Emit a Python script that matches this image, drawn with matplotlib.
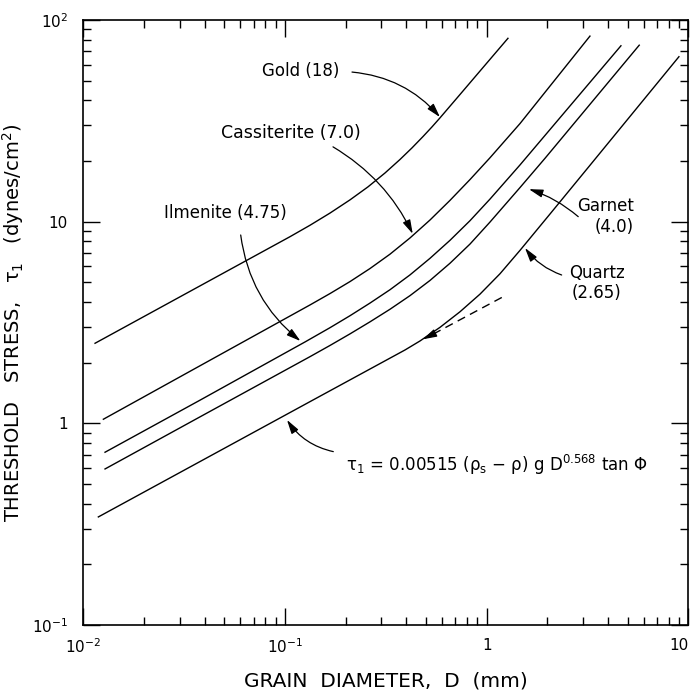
import matplotlib
matplotlib.use("Agg")
import matplotlib.pyplot as plt

plt.rcParams.update({
    "font.family": "DejaVu Sans",
    "mathtext.fontset": "dejavusans",
    "mathtext.default": "regular",
    "font.size": 12,
})

# ── curves: grain diameter D (mm) vs threshold stress (dynes/cm^2)
gold_d = [0.01143, 0.0379, 0.1059, 0.133, 0.1671, 0.2101, 0.2579, 0.3131, 0.3717,
          0.4263, 0.4832, 0.5356, 0.5868, 0.7375, 0.9808, 1.2752]
gold_t = [2.495, 4.805, 8.426, 9.598, 11.03, 12.83, 14.88, 17.43, 20.34,
          23.22, 26.42, 29.51, 32.71, 42.72, 59.68, 81.15]

cass_d = [0.01257, 0.0379, 0.133, 0.1671, 0.2101, 0.2638, 0.3316, 0.4166, 0.5235,
          0.6577, 0.8264, 1.0385, 1.463, 3.252]
cass_t = [1.048, 1.93, 3.864, 4.400, 5.047, 5.855, 6.900, 8.303, 10.19,
          12.75, 16.17, 20.74, 30.65, 83.22]

ilm_d = [0.01281, 0.0379, 0.1257, 0.1671, 0.2101, 0.2638, 0.3316, 0.4166, 0.5235,
         0.6577, 0.8264, 1.0385, 1.463, 4.633]
ilm_t = [0.719, 1.303, 2.533, 2.980, 3.418, 3.947, 4.598, 5.445, 6.580,
         8.08, 10.11, 12.94, 19.11, 74.52]

garnet_d = [0.01281, 0.0379, 0.133, 0.1671, 0.2101, 0.2638, 0.3316, 0.4166, 0.5235,
            0.6577, 0.8264, 1.0385, 1.463, 1.946, 5.709]
garnet_t = [0.594, 1.077, 2.141, 2.433, 2.778, 3.186, 3.679, 4.297, 5.111,
            6.220, 7.743, 9.954, 14.76, 20.61, 75.02]

quartz_d = [0.01187, 0.0379, 0.133, 0.3936, 0.467, 0.5868, 0.7375, 0.9264, 1.164,
            1.463, 2.06, 3.252, 8.982]
quartz_t = [0.3435, 0.6465, 1.281, 2.311, 2.561, 2.992, 3.575, 4.371, 5.516,
            7.206, 10.91, 19.03, 65.77]

# dashed extension of the D^0.568 law beyond the quartz bend
ext_d = [0.543, 1.21]
ext_t = [2.77, 4.25]

fig = plt.figure(figsize=(6.95, 6.95), dpi=100)
ax = fig.add_axes([0.1199, 0.1007, 0.8705, 0.8705])

for d, t in [(gold_d, gold_t), (cass_d, cass_t), (ilm_d, ilm_t),
             (garnet_d, garnet_t), (quartz_d, quartz_t)]:
    ax.plot(d, t, color="k", lw=1.0)
ax.plot(ext_d, ext_t, color="k", lw=1.0, ls=(0, (6, 4)))

ax.set_xscale("log"); ax.set_yscale("log")
ax.set_xlim(1e-2, 10); ax.set_ylim(1e-1, 1e2)

ax.set_xticks([0.01, 0.1, 1, 10])
ax.set_xticklabels([r"$10^{-2}$", r"$10^{-1}$", "1", "10"])
ax.get_xticklabels()[-1].set_ha("right")
ax.set_yticks([0.1, 1, 10, 100])
ax.set_yticklabels([r"$10^{-1}$", "1", "10", r"$10^{2}$"])
ax.tick_params(which="both", direction="in", top=True, right=True, width=1.0)
ax.tick_params(which="major", length=12, labelsize=11)
ax.tick_params(axis="x", which="major", pad=9)
ax.tick_params(axis="y", which="major", pad=11)
ax.tick_params(which="minor", length=6)
for s in ax.spines.values():
    s.set_linewidth(1.2)

ax.set_xlabel("GRAIN  DIAMETER,  D  (mm)", fontsize=14.5)
ax.xaxis.set_label_coords(0.5, -0.077)
ax.set_ylabel(r"THRESHOLD   STRESS,   $\tau_1$   (dynes/cm$^2$)", fontsize=14)
ax.yaxis.set_label_coords(-0.095, 0.5)

# ── labels and arrows
ax.text(0.12, 55.9, "Gold (18)", ha="center", va="center", fontsize=12)
ax.text(0.1071, 27.5, "Cassiterite (7.0)", ha="center", va="center", fontsize=12.5)
ax.text(0.0504, 11.04, "Ilmenite (4.75)", ha="center", va="center", fontsize=12)
ax.text(5.37, 10.6, "Garnet\n(4.0)", ha="right", va="center", fontsize=12,
        multialignment="right", linespacing=1.2)
ax.text(3.52, 4.97, "Quartz\n(2.65)", ha="center", va="center", fontsize=12,
        multialignment="center", linespacing=1.2)
ax.text(0.2, 0.622,
        r"$\tau_1$ = 0.00515 ($\rho_s$ $-$ $\rho$) g D$^{0.568}$ tan $\Phi$",
        ha="left", va="center", fontsize=12)

arrow = "-|>,head_length=0.7,head_width=0.2"
arrows = [
    ((0.2149, 55.2), (0.5867, 33.0), -0.2),
    ((0.173, 23.5), (0.43, 8.7), -0.15),
    ((0.0603, 8.59), (0.1193, 2.56), 0.2),
    ((2.845, 10.59), (1.62, 14.5), 0.1),
    ((2.354, 5.44), (1.549, 7.41), -0.15),
    ((0.1736, 0.724), (0.1023, 1.04), -0.2),
    ((0.543, 2.77), (0.482, 2.61), 0.0),
]
for start, end, rad in arrows:
    ax.annotate("", xy=end, xytext=start,
                arrowprops=dict(arrowstyle=arrow, color="k", lw=0.9,
                                shrinkA=0, shrinkB=0, mutation_scale=12,
                                connectionstyle=f"arc3,rad={rad}"))

fig.savefig("out.png", dpi=100)
